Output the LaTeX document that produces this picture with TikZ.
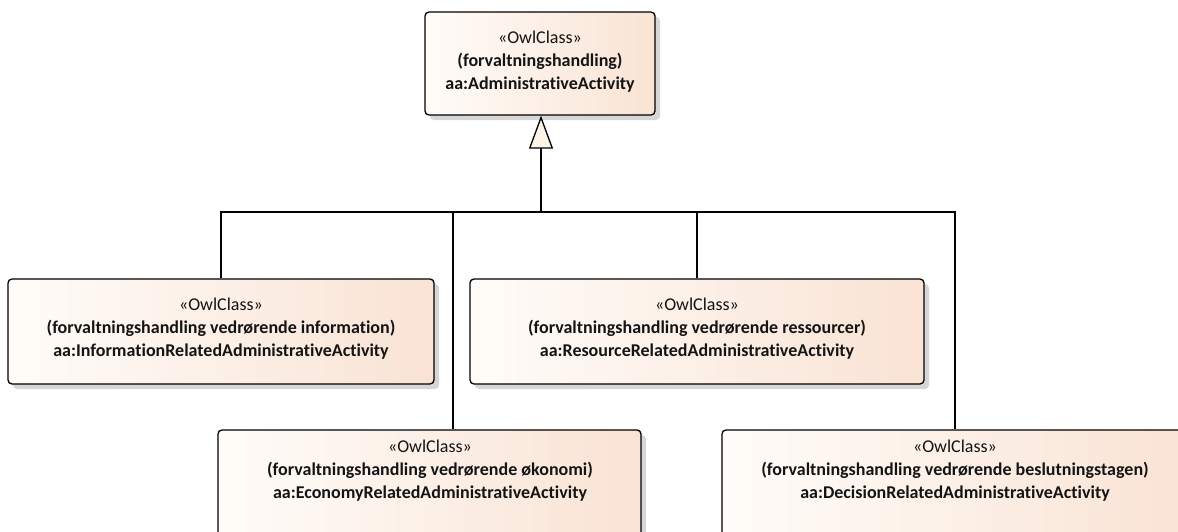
\documentclass[tikz,border=0pt]{standalone}
\usepackage{fontspec}
\setmainfont{Carlito}[Ligatures=NoCommon]
\usetikzlibrary{arrows.meta,shadows}

\definecolor{boxL}{RGB}{255,252,249}
\definecolor{boxR}{RGB}{249,227,212}
\definecolor{headfill}{RGB}{253,243,230}
\definecolor{shadowgray}{RGB}{214,214,214}
\definecolor{ink}{RGB}{20,20,20}

\tikzset{
  classbox/.style={draw=black, line width=1.3pt, rounded corners=4pt,
    left color=boxL, right color=boxR, inner sep=0pt,
    drop shadow={shadow xshift=5pt, shadow yshift=-5pt, fill=shadowgray, opacity=1}},
  classtext/.style={align=center, inner sep=0pt, text=ink,
    font=\fontsize{18}{23}\selectfont},
  link/.style={draw=black, line width=1.3pt},
  generalization/.style={link, -{Triangle[length=33pt, width=24pt, fill=headfill]}}
}

\begin{document}
\begin{tikzpicture}[x=1pt, y=-1pt]
  \useasboundingbox (0,0) rectangle (1178,531);
  \clip (0,0) rectangle (1178,531);

  % class boxes
  \node[classbox, minimum width=230pt, minimum height=103pt] (top)  at (540,63.5) {};
  \node[classbox, minimum width=426pt, minimum height=105pt] (info) at (221,331.5) {};
  \node[classbox, minimum width=454pt, minimum height=105pt] (res)  at (697,331.5) {};
  \node[classbox, minimum width=423pt, minimum height=110pt] (eco)  at (429.5,485) {};
  \node[classbox, minimum width=466pt, minimum height=110pt] (dec)  at (955,485) {};

  % class labels
  \node[classtext] (topT) at (540,62)
    {«OwlClass»\\\textbf{(forvaltningshandling)}\\\textbf{aa:AdministrativeActivity}};
  \node[classtext] (infoT) at (221,329)
    {«OwlClass»\\\textbf{(forvaltningshandling vedrørende information)}\\\textbf{aa:InformationRelatedAdministrativeActivity}};
  \node[classtext] (resT) at (697,329)
    {«OwlClass»\\\textbf{(forvaltningshandling vedrørende ressourcer)}\\\textbf{aa:ResourceRelatedAdministrativeActivity}};
  \node[classtext] (ecoT) at (430,471)
    {«OwlClass»\\\textbf{(forvaltningshandling vedrørende økonomi)}\\\textbf{aa:EconomyRelatedAdministrativeActivity}};
  \node[classtext] (decT) at (955,471)
    {«OwlClass»\\\textbf{(forvaltningshandling vedrørende beslutningstagen)}\\\textbf{aa:DecisionRelatedAdministrativeActivity}};

  % generalization tree
  \coordinate (junc) at (541,212);
  \draw[link] (info.north) |- (junc);
  \draw[link] (junc) -| (dec.north);
  \draw[link] (junc -| eco.north) ++(23.5,0) coordinate (ecoTap) -- (ecoTap |- eco.north);
  \draw[link] (res.north) -- (res.north |- junc);
  \draw[generalization] (junc) -- (junc |- top.south);
\end{tikzpicture}
\end{document}
